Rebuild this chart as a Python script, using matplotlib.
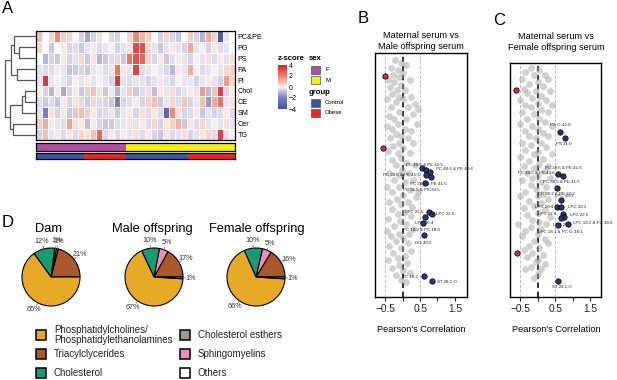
import numpy as np
import matplotlib
matplotlib.use("Agg")
import matplotlib.pyplot as plt
from matplotlib.colors import LinearSegmentedColormap
from matplotlib.patches import Rectangle

plt.rcParams['font.family'] = ['Liberation Sans', 'DejaVu Sans']

W, H = 617, 380

# ---------------- panel A: heatmap of lipid classes ----------------
lipid_classes = ["PC&PE", "PG", "PS", "PA", "PI", "Chol", "CE", "SM", "Cer", "TG"]
zscores = [
    [0.8, 0.0, 0.5, 1.8, 0.6, 0.5, 0.0, -0.5, -1.2, -0.5, 0.4, 0.0, -0.4, -0.5, 0.0, 0.5, 1.8, 1.0, 0.6, 0.0, -0.5, 0.5, -0.5, -0.6, 0.0, 0.6, -0.5, -1.0, 1.2, 0.5, -3.5, -0.3, 0.0],
    [0.5, 0.0, -0.6, 0.0, 0.3, -0.5, -0.4, -0.6, -0.3, 0.3, -0.4, -0.3, 0.2, -0.5, -0.3, 0.4, 3.2, 3.0, 0.5, -0.3, -0.6, -0.3, 0.3, -0.3, -0.5, 1.3, -0.3, 0.2, -0.5, 0.3, -0.4, -0.3, 0.0],
    [0.0, -1.0, -0.5, -0.6, 0.3, -0.5, -0.3, 0.5, -0.6, 0.4, -1.0, -0.6, -0.4, 0.5, -0.6, 2.2, 3.0, 2.5, 0.5, -0.5, 0.3, -0.6, -0.4, 0.3, -0.3, -0.5, 0.2, -0.3, 0.4, -0.4, 0.3, -0.3, 0.4],
    [-0.3, -0.4, -0.4, 0.3, -0.3, -0.7, -0.6, -0.5, -0.6, -0.3, 0.3, -0.4, 0.4, 2.2, 0.3, -0.3, 3.3, -0.4, -0.3, 0.2, -0.3, -0.5, -1.0, 0.3, -0.3, 1.2, 0.2, -0.4, -0.3, 0.2, -0.3, 0.5, 0.6],
    [-0.3, 3.5, -0.3, 0.2, -0.3, -0.5, 0.2, -0.3, 0.3, -0.3, 0.2, -0.3, -0.5, 3.6, -0.3, -0.4, -0.3, -0.3, -0.5, -0.3, 0.3, -0.3, -0.5, 0.2, -0.3, -0.3, -0.5, -0.3, 0.3, -0.3, -0.5, 1.5, 0.5],
    [0.2, -0.5, -1.0, 0.3, -1.2, -0.5, 0.3, -0.6, 0.6, 0.9, 0.4, -0.6, 0.3, -1.0, -0.3, 0.6, -0.6, -0.4, 0.4, -0.8, 0.3, -0.3, 0.4, -0.5, -0.3, 0.3, -0.3, 1.5, -0.9, 0.8, 3.3, -0.5, 0.3],
    [-0.4, -0.6, -0.4, -0.7, 0.3, -0.5, 0.4, -0.4, -0.6, 0.5, -0.4, -0.5, -0.6, -2.0, -0.5, -0.4, 0.3, -0.5, 0.6, 0.9, -0.6, -0.3, 0.5, -0.4, 0.8, -0.5, -0.3, 0.9, -1.5, 1.3, 2.2, -0.3, 0.4],
    [-0.3, -2.0, 0.4, -0.5, 0.3, -0.6, 0.8, 0.9, 0.6, 0.3, -0.5, -0.4, 0.4, -0.6, -0.3, 0.3, -0.5, 0.4, -0.4, 0.3, -0.4, -3.0, 1.8, 0.4, -0.5, -0.4, 0.3, -0.6, -0.3, -0.5, -0.4, 0.3, -0.4],
    [0.6, 1.2, 0.3, -0.3, -0.4, 1.4, 0.4, 0.3, -0.8, 0.3, -0.5, -0.7, -0.6, -0.4, -0.3, 0.4, -0.3, 0.3, -0.4, 0.5, -0.5, 0.3, 0.6, 1.1, -0.6, 0.3, -0.4, 0.5, -0.3, 0.2, -0.3, 0.4, -0.3],
    [-0.5, 0.9, -0.3, 0.3, -0.4, 0.3, -0.4, 0.5, 0.4, 0.8, 2.5, -0.4, 0.3, -0.4, 0.3, -0.3, 0.4, -0.4, 0.3, -0.5, -0.6, 0.3, -0.4, -0.3, 0.4, -0.5, -0.3, 0.3, 0.5, -0.4, 3.3, -0.3, 0.2],
]
sex_labels = ["F", "M"]
sex_counts = [15, 18]
group_labels = ["Control", "Obese", "Control", "Obese"]
group_counts = [8, 7, 10, 8]
annot_colors = {"F": "#B24FA0", "M": "#F3EE1C", "Control": "#3A55A4", "Obese": "#E5262B"}
# (left, right, height, new node)
dendro_merges = [
    ("PG", "PS", 17, "g1"),
    ("PC&PE", "g1", 22, "g2"),
    ("PA", "PI", 19, "g3"),
    ("g2", "g3", 25, "g4"),
    ("Chol", "CE", 11, "g5"),
    ("g5", "SM", 14, "g6"),
    ("Cer", "TG", 23, "g7"),
    ("g6", "g7", 26, "g8"),
    ("g4", "g8", 31.5, "root"),
]

# ---------------- panels B / C: correlation strip plots ----------------
b_grey = [(-0.22, 3), (-0.05, 4), (0.1, 5), (-0.35, 6), (-0.15, 7), (0.02, 8), (-0.28, 9), (-0.1, 10),
          (-0.42, 11), (0.2, 11), (-0.25, 12), (-0.05, 13), (-0.38, 14), (-0.18, 15), (0.05, 15), (-0.3, 17),
          (-0.12, 18), (0.25, 18), (-0.45, 19), (0.0, 19), (-0.2, 20), (0.35, 21), (-0.35, 22), (0.15, 22),
          (0.45, 23), (-0.1, 24), (0.3, 25), (-0.4, 26), (-0.25, 27), (0.1, 27), (-0.15, 29), (0.4, 29),
          (-0.45, 30), (-0.3, 31), (0.05, 31), (0.25, 32), (-0.2, 33), (-0.05, 34), (-0.38, 35), (0.15, 35),
          (-0.1, 37), (0.3, 37), (-0.28, 38), (0.0, 39), (-0.42, 40), (-0.15, 41), (0.2, 41), (-0.05, 43),
          (-0.32, 44), (0.1, 45), (-0.2, 46), (0.35, 46), (-0.02, 48), (-0.4, 49), (0.18, 49), (-0.12, 50),
          (0.3, 52), (-0.25, 52), (0.05, 53), (-0.45, 55), (-0.1, 55), (0.2, 56), (-0.3, 57), (0.45, 57),
          (0.0, 58), (0.38, 59), (-0.18, 60), (-0.4, 61), (0.15, 61), (-0.05, 62), (0.28, 63), (-0.3, 64),
          (0.05, 65), (-0.15, 66), (0.25, 67), (-0.42, 68), (-0.08, 69), (0.1, 70), (-0.25, 71), (0.3, 72),
          (-0.45, 73), (-0.1, 74), (0.18, 74), (-0.35, 75), (0.0, 76), (-0.2, 77), (0.15, 78), (-0.4, 79),
          (-0.05, 80), (0.25, 81), (-0.28, 82), (0.05, 83), (-0.15, 84), (-0.42, 85), (0.12, 86), (-0.1, 87),
          (-0.3, 88), (0.0, 89), (0.2, 90), (-0.2, 91), (-0.05, 93), (0.1, 94)]
b_red = [(-0.50, 9.3), (-0.56, 38.8)]
b_blue = [(0.55, 47.0), (0.68, 47.9), (0.78, 48.6), (0.68, 50.0), (0.80, 50.7), (0.63, 53.4), (0.75, 65.1),
          (0.83, 65.8), (0.65, 67.1), (0.58, 69.6), (0.60, 74.7), (0.60, 91.5), (0.83, 93.4)]
b_labels = [("PC 40:6 & PE 42:5", 0.08, 45.8, "left"), ("PC 40:6 & PE 42:6", 0.95, 47.6, "left"),
            ("PC 38:6 & PE 41:6", 0.5, 49.8, "right"), ("PC 38:5 & PE 41:5", 0.2, 53.6, "left"),
            ("PC 36:5 & PE 39:5", 0.0, 56.3, "left"), ("LPC 22:6", 0.05, 65.0, "left"),
            ("LPC 22:5", 0.97, 65.9, "left"), ("LPC 20:4", 0.35, 69.6, "left"),
            ("PC 18:2 & PC 18:0", 0.0, 72.4, "left"), ("DG 40:5", 0.35, 77.8, "left"),
            ("PC 18:2", -0.03, 91.6, "left"), ("ST 28:1;O", 0.99, 93.6, "left")]

c_grey = [(-0.2, 2), (0.05, 3), (-0.35, 4), (0.2, 5), (-0.1, 5), (-0.45, 7), (0.3, 7), (0.0, 8), (-0.25, 9),
          (0.15, 10), (-0.4, 11), (-0.05, 12), (0.35, 12), (-0.3, 13), (0.1, 14), (-0.15, 15), (-0.5, 16),
          (0.25, 16), (0.0, 17), (-0.35, 18), (0.4, 18), (-0.2, 19), (0.1, 20), (-0.45, 21), (0.3, 21),
          (-0.1, 22), (0.05, 24), (-0.3, 24), (0.2, 25), (-0.5, 26), (-0.15, 27), (0.4, 27), (0.0, 28),
          (-0.35, 29), (0.15, 30), (-0.25, 31), (0.3, 31), (-0.05, 32), (-0.45, 34), (0.1, 34), (-0.2, 35),
          (0.25, 36), (-0.35, 37), (0.0, 38), (-0.1, 39), (0.4, 39), (-0.5, 40), (0.15, 41), (-0.25, 42),
          (0.05, 43), (-0.4, 44), (0.3, 44), (-0.1, 45), (0.2, 46), (-0.3, 47), (0.0, 48), (-0.15, 49),
          (0.35, 49), (-0.45, 50), (0.1, 51), (-0.2, 52), (0.25, 53), (-0.05, 54), (-0.35, 55), (0.15, 56),
          (-0.5, 57), (0.0, 57), (0.3, 58), (-0.25, 59), (0.1, 60), (-0.1, 61), (-0.4, 62), (0.2, 63),
          (0.0, 64), (-0.3, 65), (0.35, 66), (-0.15, 67), (0.05, 68), (-0.55, 69), (0.25, 69), (-0.2, 70),
          (0.1, 71), (-0.35, 72), (0.0, 73), (-0.45, 74), (0.2, 75), (-0.1, 76), (0.3, 77), (-0.25, 78),
          (0.05, 79), (-0.4, 80), (-0.15, 81), (0.15, 82), (-0.3, 83), (0.0, 84), (-0.05, 85), (0.2, 86),
          (-0.2, 87), (-0.35, 88), (0.1, 88), (0.0, 90), (-0.1, 92)]
c_red = [(-0.62, 11.4), (-0.60, 81.0)]
c_blue = [(0.64, 29.7), (0.77, 32.1), (0.59, 47.4), (0.71, 48.3), (0.55, 53.3), (0.67, 58.6), (0.55, 61.6),
          (0.67, 61.4), (0.71, 64.6), (0.74, 65.7), (0.67, 66.4), (0.88, 68.6), (0.59, 69.3), (0.57, 93.1)]
c_labels = [("PS O-42:0", 0.34, 26.7, "left"), ("PS 31:0", 0.53, 34.6, "left"),
            ("PC 38:6 & PE 41:6", 0.2, 45.0, "left"), ("PC 40:5 & PE 43:6", 0.5, 46.9, "right"),
            ("PC 38:5 & PE 41:5", 0.16, 50.7, "left"), ("PC 36:2 & PE 39:2", 0.0, 56.0, "left"),
            ("LPC 18:3", 0.5, 56.9, "left"), ("LPC 20:4", -0.07, 61.4, "left"),
            ("LPC 18:2", 0.87, 61.7, "left"), ("LPC 22:6", 0.0, 64.6, "left"),
            ("LPC 22:5", 0.93, 65.0, "left"), ("LPC 18:2 & PC 18:0", 1.01, 68.5, "left"),
            ("LPC 20:5", 0.45, 69.3, "left"), ("LPC 18:1 & PC O-18:1", 0.0, 72.1, "left"),
            ("ST 28:1;O", 0.4, 95.7, "left")]

# ---------------- panel D: pies ----------------
pie_categories = ["Phosphatidylcholines/\nPhosphatidylethanolamines", "Triacylclycerides", "Cholesterol",
                  "Cholesterol esthers", "Sphingomyelins", "Others"]
pie_colors = ["#E6AA26", "#A8582B", "#1A9A74", "#999999", "#EF8CBA", "#FFFFFF"]
pie_titles = ["Dam", "Male offspring", "Female offspring"]
dam_pct = [65, 21, 12, 1, 1, 0]
male_pct = [67, 17, 10, 1, 5, 0]
female_pct = [66, 16, 10, 1, 5, 0]
# counter-clockwise order from 3 o'clock
pie_orders = [[1, 4, 3, 2, 0], [1, 4, 2, 0, 3], [1, 4, 2, 0, 3]]


def px(x0, y0, x1, y1):
    return [x0 / W, 1 - y1 / H, (x1 - x0) / W, (y1 - y0) / H]


fig = plt.figure(figsize=(W / 100, H / 100), dpi=100)

# heatmap
z = np.array(zscores)
hax = fig.add_axes(px(36, 31, 235, 140))
cmap = LinearSegmentedColormap.from_list(
    "zs", [(0.0, "#3B4FA3"), (0.25, "#7F7DC2"), (0.42, "#C9C5E6"), (0.5, "#FFFFFF"),
           (0.58, "#F8CBBF"), (0.75, "#F07E70"), (1.0, "#E41F26")])
mesh = hax.pcolormesh(z, cmap=cmap, vmin=-4, vmax=4, edgecolors="white", linewidth=0.6)
hax.set_xlim(0, z.shape[1])
hax.set_ylim(z.shape[0], 0)
hax.set_xticks([])
hax.set_yticks(np.arange(len(lipid_classes)) + 0.5)
hax.set_yticklabels(lipid_classes, fontsize=5.2)
hax.yaxis.tick_right()
hax.tick_params(axis="y", length=0, pad=2)
for s in hax.spines.values():
    s.set_linewidth(0.9)

# dendrogram
dax = fig.add_axes(px(3, 31, 36, 140))
pos = {name: (i + 0.5, 0.0) for i, name in enumerate(lipid_classes)}
for a, b, h, name in dendro_merges:
    ya, ha = pos[a]
    yb, hb = pos[b]
    dax.plot([ha, h, h, hb], [ya, ya, yb, yb], color="#555555", lw=0.9, solid_capstyle="butt")
    pos[name] = ((ya + yb) / 2, h)
dax.set_xlim(33, 0)
dax.set_ylim(len(lipid_classes), 0)
dax.axis("off")


def annot_bar(rect, labels, counts):
    a = fig.add_axes(px(*rect))
    x = 0
    for lab, n in zip(labels, counts):
        a.add_patch(Rectangle((x, 0), n, 1, facecolor=annot_colors[lab], edgecolor="none"))
        x += n
    a.set_xlim(0, x)
    a.set_ylim(0, 1)
    a.set_xticks([])
    a.set_yticks([])
    for s in a.spines.values():
        s.set_linewidth(0.9)


annot_bar((36, 143, 235, 151), sex_labels, sex_counts)
annot_bar((36, 153, 235, 159), group_labels, group_counts)

cax = fig.add_axes(px(278, 65, 287, 109))
cb = fig.colorbar(mesh, cax=cax, ticks=[-4, -2, 0, 2, 4])
cb.outline.set_visible(False)
cax.tick_params(labelsize=5, length=0, pad=1.5)


# correlation panels
def corr_panel(rect, grey, red, blue, labels, xlim):
    a = fig.add_axes(px(*rect))
    for xv in (-0.5, 0.5):
        a.axvline(xv, color="#BBBBBB", lw=0.7, ls=(0, (3, 2)), zorder=1)
    a.axvline(0, color="#222222", lw=1.3, ls=(0, (3, 2)), zorder=1)
    g = np.array(grey)
    a.scatter(g[:, 0], g[:, 1], s=24, color="#A5A5A5", alpha=0.5, lw=0, zorder=2)
    for txt, xv, yv, ha in labels:
        a.text(xv, yv, txt, fontsize=3.2, ha=ha, va="center", color="#222222", zorder=3)
    r = np.array(red)
    a.scatter(r[:, 0], r[:, 1], s=15, color="#D8283C", edgecolor="black", lw=0.5, zorder=4)
    bl = np.array(blue)
    a.scatter(bl[:, 0], bl[:, 1], s=15, color="#28337D", edgecolor="black", lw=0.5, zorder=4)
    a.set_xlim(*xlim)
    a.set_ylim(100, 0)
    a.set_yticks([])
    a.set_xticks([-0.5, 0, 0.5, 1, 1.5])
    a.set_xticklabels(["\u22120.5", "", "0.5", "", "1.5"])
    a.tick_params(axis="x", labelsize=7.3, length=3, width=0.8, pad=2, colors="#222222")
    for s in a.spines.values():
        s.set_linewidth(1.0)
    return a


corr_panel((375, 53, 467, 297), b_grey, b_red, b_blue, b_labels, (-0.8, 1.85))
corr_panel((510, 63, 601, 297), c_grey, c_red, c_blue, c_labels, (-0.79, 1.81))

# pies
pie_values = [dam_pct, male_pct, female_pct]
pie_centers = [51, 154, 256]
for title, vals, order, cx in zip(pie_titles, pie_values, pie_orders, pie_centers):
    pax = fig.add_axes(px(cx - 29, 248, cx + 29, 306))
    v = [vals[i] for i in order]
    cols = [pie_colors[i] for i in order]
    wedges, _ = pax.pie(v, colors=cols, startangle=0, counterclock=True, radius=1,
                        wedgeprops=dict(edgecolor="black", linewidth=0.8))
    for w, val in zip(wedges, v):
        ang = np.deg2rad((w.theta1 + w.theta2) / 2)
        ca, sa = np.cos(ang), np.sin(ang)
        pax.plot([1.0 * ca, 1.1 * ca], [1.0 * sa, 1.1 * sa], color="#666666", lw=0.5, clip_on=False)
        pax.text(1.28 * ca, 1.26 * sa, f"{val}%", fontsize=5.2, ha="center", va="center",
                 color="#333333", clip_on=False)
    pax.set_xlim(-1, 1)
    pax.set_ylim(-1, 1)

# overlay for legends and panel letters
ov = fig.add_axes([0, 0, 1, 1])
ov.set_xlim(0, W)
ov.set_ylim(H, 0)
ov.axis("off")

for letter, x, y in [("A", 2, 1), ("B", 358, 11), ("C", 493, 13), ("D", 2, 215)]:
    ov.text(x, y, letter, fontsize=12, va="top", ha="left")

ov.text(278, 58, "z-score", fontsize=5.6, fontweight="bold", va="center")
ov.text(309, 58, "sex", fontsize=5.6, fontweight="bold", va="center")
ov.text(309, 92, "group", fontsize=5.6, fontweight="bold", va="center")
for lab, y in zip(sex_labels + ["Control", "Obese"], [65.5, 76, 99, 109]):
    ov.add_patch(Rectangle((311, y), 9, 8, facecolor=annot_colors[lab], edgecolor="#555555", lw=0.5))
    ov.text(325, y + 4, lab, fontsize=4.3, va="center")

# pie titles
for title, cx in zip(pie_titles, [48, 152.5, 256.5]):
    ov.text(cx, 229, title, fontsize=9.3, ha="center", va="center")

# pie legend
leg_pos = [(36, 330), (36, 349), (36, 368), (180, 330), (180, 349), (180, 368)]
for cat, col, (x, y) in zip(pie_categories, pie_colors, leg_pos):
    ov.add_patch(Rectangle((x, y), 10, 10, facecolor=col, edgecolor="black", lw=1.1))
    ov.text(x + 18, y + 5, cat, fontsize=7, va="center", ha="left", linespacing=0.95, color="#222222")

# panel titles B / C
ov.text(421, 41, "Maternal serum vs\nMale offspring serum", fontsize=6.6, ha="center", va="center",
        linespacing=1.25)
ov.text(556, 42, "Maternal serum vs\nFemale offspring serum", fontsize=6.6, ha="center", va="center",
        linespacing=1.25)
ov.text(421, 330, "Pearson's Correlation", fontsize=6.6, ha="center", va="center")
ov.text(556, 330, "Pearson's Correlation", fontsize=6.6, ha="center", va="center")

fig.savefig("out.png", dpi=100)
